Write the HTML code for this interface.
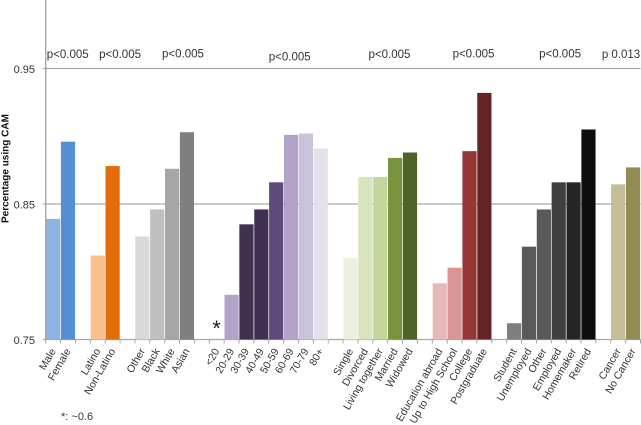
<!DOCTYPE html>
<html>
<head>
<meta charset="utf-8">
<style>
html,body{margin:0;padding:0;background:#fff;width:641px;height:425px;overflow:hidden}
svg{display:block;font-family:"Liberation Sans",sans-serif;filter:blur(0.35px)}
text{fill:#333}
</style>
</head>
<body>
<svg id="chart" width="641" height="425" viewBox="0 0 641 425" xmlns="http://www.w3.org/2000/svg">
  <g id="grid"></g>
  <g id="bars"></g>
  <g id="axes"></g>
  <g id="labels"></g>
  <g id="pvals"></g>
  <text transform="translate(8.5,223) rotate(-90)" font-size="10" font-weight="bold" style="fill:#111">Percentage using CAM</text>
  <text x="216.5" y="336" text-anchor="middle" font-size="22" style="fill:#222">*</text>
  <text x="61" y="420" font-size="11">*: ~0.6</text>
</svg>
<script>
const categories = ["Male","Female","","Latino","Non-Latino","","Other","Black","White","Asian","","<20","20-29","30-39","40-49","50-59","60-69","70-79","80+","","Single","Divorced","Living together","Married","Widowed","","Education abroad","Up to High School","College","Postgraduate","","Student","Unemployed","Other","Employed","Homemaker","Retired","","Cancer","No Cancer"];
const values = [0.839,0.896,null,0.812,0.878,null,0.826,0.846,0.876,0.903,null,0.6,0.783,0.835,0.846,0.866,0.901,0.902,0.891,null,0.810,0.870,0.870,0.884,0.888,null,0.7915,0.803,0.889,0.932,null,0.762,0.8185,0.846,0.866,0.866,0.905,null,0.8645,0.877];
const barColors = ["#8db3e2","#558ed5",null,"#fac090","#e46c0a",null,"#d9d9d9","#bfbfbf","#a6a6a6","#7f7f7f",null,"#b3a2c7","#b3a2c7","#403152","#403152","#604a7b","#b3a2c7","#ccc1da","#e6e0ec",null,"#ebf1de","#d7e4bd","#c3d69b","#77933c","#4f6228",null,"#e6b9b8","#d99694","#953735","#632423",null,"#7f7f7f","#595959","#595959","#404040","#262626","#0d0d0d",null,"#c4bd97","#948a54"];
const yTicks = [0.75,0.85,0.95];
const pLabels = ["p<0.005","p<0.005","p<0.005","p<0.005","p<0.005","p<0.005","p<0.005","p 0.013"];
const pCenters = [1.48,5.0,9.23,16.41,23.12,28.77,34.59,38.69];
const pRows = [58,58,57.5,60.5,58,57.5,57.5,58];

const NS = "http://www.w3.org/2000/svg";
const x0 = 45.7, slot = 14.87;
const yAxis = v => 339.5 - (v - 0.75) * 1355;
const xAxis = i => x0 + i * slot;
const xEnd = xAxis(categories.length);
function el(parent, tag, attrs){
  const e = document.createElementNS(NS, tag);
  for (const k in attrs) e.setAttribute(k, attrs[k]);
  parent.appendChild(e);
  return e;
}
const grid = document.getElementById("grid");
const bars = document.getElementById("bars");
const axes = document.getElementById("axes");
const labels = document.getElementById("labels");
const pvals = document.getElementById("pvals");

yTicks.forEach(t => {
  const y = yAxis(t);
  const line = el(grid, "line", {x1: x0 - 3, x2: xEnd, y1: y, y2: y, stroke: "#a6a6a6", "stroke-width": 1.3});
  
  
  const tick = el(axes, "text", {x: 35, y: y + 4.5, "text-anchor": "end", "font-size": 11});
  tick.textContent = t.toFixed(2);
  
  
});

categories.forEach((c, i) => {
  const v = values[i];
  if (v !== null && v > 0.75) {
    const y = yAxis(v);
    const r = el(bars, "rect", {x: xAxis(i) + 0.35, y: y, width: slot - 0.7, height: yAxis(0.75) - y, fill: barColors[i]});
    
    
  }
  if (c) {
    const cx = xAxis(i) + slot / 2 + 3;
    const t = el(labels, "text", {transform: "translate(" + cx + ",351) rotate(-60)", "text-anchor": "end", "font-size": 10.5});
    t.textContent = c;
    
    
  }
});

for (let i = 0; i <= categories.length; i++) {
  const tk = el(axes, "line", {x1: xAxis(i), x2: xAxis(i), y1: 339.5, y2: 343.5, stroke: "#a6a6a6", "stroke-width": 1});
  
  
}
const yLine = el(axes, "line", {x1: x0, x2: x0, y1: 0, y2: 340, stroke: "#a6a6a6", "stroke-width": 1.4});



pLabels.forEach((p, i) => {
  const t = el(pvals, "text", {x: x0 + pCenters[i] * slot, y: pRows[i], "text-anchor": "middle", "font-size": 11.5});
  t.textContent = p;
  
  
});
</script>
</body>
</html>
